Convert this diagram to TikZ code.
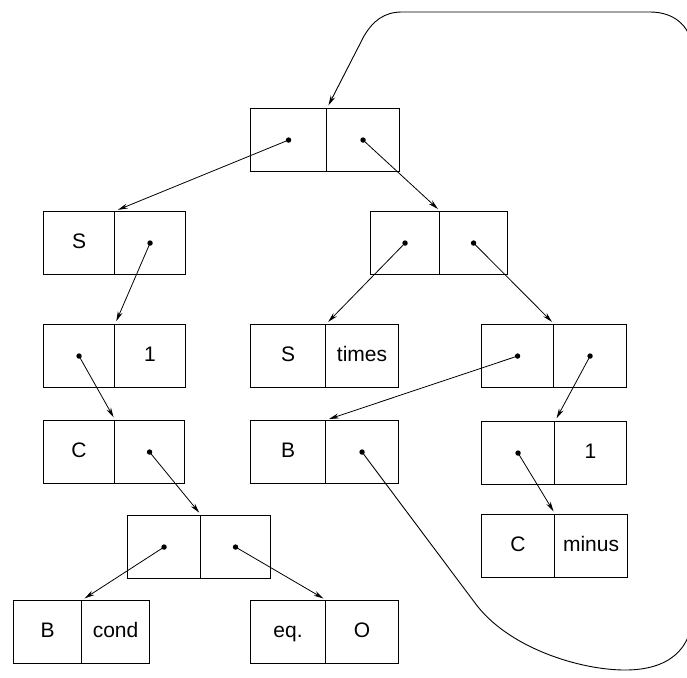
\documentclass[tikz,border=0pt]{standalone}
\usepackage{fontspec}
\setmainfont{Liberation Sans}
\usetikzlibrary{arrows.meta}

% one cons cell: name, left x, divider x, right x, top y, left text, right text
\newcommand\conscell[7]{%
  \node[cell, minimum width={#3-#2}, anchor=north west] (#1L) at (#2,#5) {#6};
  \node[cell, minimum width={#4-#3}, anchor=north west] (#1R) at (#3,#5) {#7};
}

\begin{document}
\begin{tikzpicture}[x=1pt, y=-1pt,
  cell/.style={draw, line width=1.1pt, rectangle, inner sep=0pt,
    minimum height=63pt, text height=15pt, text depth=4pt,
    font=\fontsize{21}{24}\selectfont},
  ptr/.style={-{Stealth[length=10pt,width=5pt]}, line width=0.8pt, shorten >=3pt},
  dot/.style={fill=black}]
\useasboundingbox (0,0) rectangle (687,677);

% cells
\conscell{root}{250}{326}{399}{108}{}{}
\conscell{sa}{43}{114}{185}{211}{S}{}
\conscell{pb}{370}{439}{507}{211}{}{}
\conscell{oa}{43}{114}{185}{324}{}{1}
\conscell{st}{250}{325}{398}{324}{S}{times}
\conscell{pc}{481}{553}{626}{324}{}{}
\conscell{ca}{43}{114}{184}{420}{C}{}
\conscell{ba}{250}{325}{398}{420}{B}{}
\conscell{ob}{481}{554}{626}{421}{}{1}
\conscell{cm}{481}{554}{627}{514}{C}{minus}
\conscell{pd}{127}{200}{270}{515}{}{}
\conscell{bc}{13}{81}{149}{600}{B}{cond}
\conscell{eq}{250}{325}{398}{600}{eq.}{O}

% pointer dots
\foreach \c in {rootL,rootR,saR,pbL,pbR,oaL,pcL,pcR,caR,baR,obL,pdL,pdR}
  \fill[dot] (\c.center) circle (2.7pt);

% pointers
\draw[ptr] (rootL.center) -- (saL.north east);
\draw[ptr] (rootR.center) -- (pbL.north east);
\draw[ptr] (saR.center) -- (oaL.north east);
\draw[ptr] (oaL.center) -- (caL.north east);
\draw[ptr] (caR.center) -- (pdL.north east);
\draw[ptr] (pdL.center) -- (bcL.north east);
\draw[ptr] (pdR.center) -- (eqL.north east);
\draw[ptr] (pbL.center) -- (stL.north east);
\draw[ptr] (pbR.center) -- (pcL.north east);
\draw[ptr] (pcL.center) -- (baL.north east);
\draw[ptr] (pcR.center) -- (obL.north east);
\draw[ptr] (obL.center) -- (cmL.north east);

% back pointer looping round to the top cell
\coordinate (loopA) at (475,603);
\draw[ptr, line width=0.9pt] (baR.center) -- (loopA)
  .. controls (508,648) and (580,670) .. (625,670)
  .. controls (668,670) and (693,650) .. (693,610)
  -- (693,55)
  .. controls (693,28) and (676,12) .. (650,12)
  -- (402,12)
  .. controls (384,12) and (373,21) .. (364,36)
  -- (rootL.north east);
\end{tikzpicture}
\end{document}
